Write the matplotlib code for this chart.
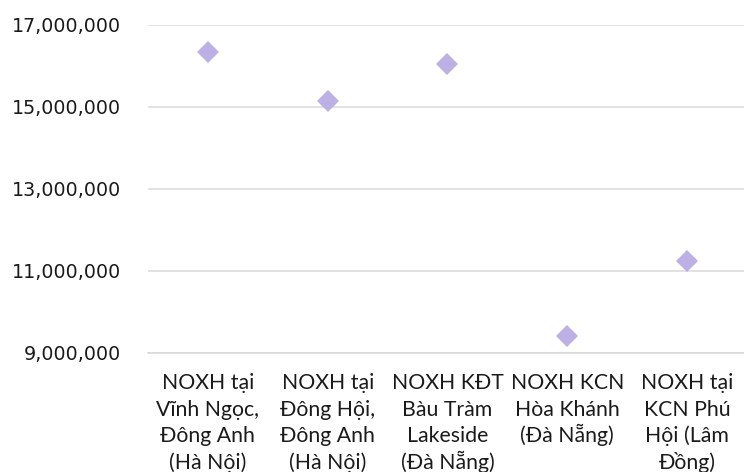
import matplotlib
matplotlib.use("Agg")
import matplotlib.pyplot as plt
from matplotlib.ticker import FuncFormatter
from matplotlib.transforms import blended_transform_factory

# Giá bán (đồng/m²) của các dự án nhà ở xã hội
categories = [
    "NOXH tại\nVĩnh Ngọc,\nĐông Anh\n(Hà Nội)",
    "NOXH tại\nĐông Hội,\nĐông Anh\n(Hà Nội)",
    "NOXH KĐT\nBàu Tràm\nLakeside\n(Đà Nẵng)",
    "NOXH KCN\nHòa Khánh\n(Đà Nẵng)",
    "NOXH tại\nKCN Phú\nHội (Lâm\nĐồng)",
]
prices = [16340000, 15150000, 16060000, 9420000, 11240000]
y_ticks = [9000000, 11000000, 13000000, 15000000, 17000000]

W, H = 744, 472
fig = plt.figure(figsize=(W / 100, H / 100), dpi=100)
ax = fig.add_axes([148 / W, 1 - 353 / H, 599 / W, (353 - 25) / H])

x = list(range(len(categories)))
ax.plot(x, prices, linestyle="none", marker="D", markersize=11.2,
        markerfacecolor="#BDB0E5", markeredgewidth=0, zorder=3)

ax.set_xlim(-0.5, len(categories) - 0.5)
ax.set_ylim(y_ticks[0], y_ticks[-1])
ax.set_yticks(y_ticks)
ax.yaxis.set_major_formatter(FuncFormatter(lambda v, _: f"{v:,.0f}"))
ax.grid(axis="y", color="#D9D9D9", linewidth=1.1, zorder=0)
ax.set_axisbelow(True)

for side in ("top", "right", "left"):
    ax.spines[side].set_visible(False)
ax.spines["bottom"].set_color("#D9D9D9")
ax.spines["bottom"].set_linewidth(1.1)

ax.set_xticks(x)
ax.set_xticklabels([])
ax.tick_params(axis="x", length=0)
ax.tick_params(axis="y", length=0, pad=19.5, labelsize=13.7, labelcolor="#1a1a1a")
for lbl in ax.get_yticklabels():
    lbl.set_fontfamily("DejaVu Sans")

# Category labels: one text per line so every line gets the same spacing
trans = blended_transform_factory(ax.transData, fig.transFigure)
first_baseline, line_step = 389, 26.7
for xi, label in zip(x, categories):
    for i, line in enumerate(label.split("\n")):
        ax.text(xi, 1 - (first_baseline + i * line_step) / H, line,
                transform=trans, ha="center", va="baseline",
                fontfamily="Lato", fontsize=15.3, color="#1a1a1a",
                clip_on=False)

fig.savefig("out.png", dpi=100)
